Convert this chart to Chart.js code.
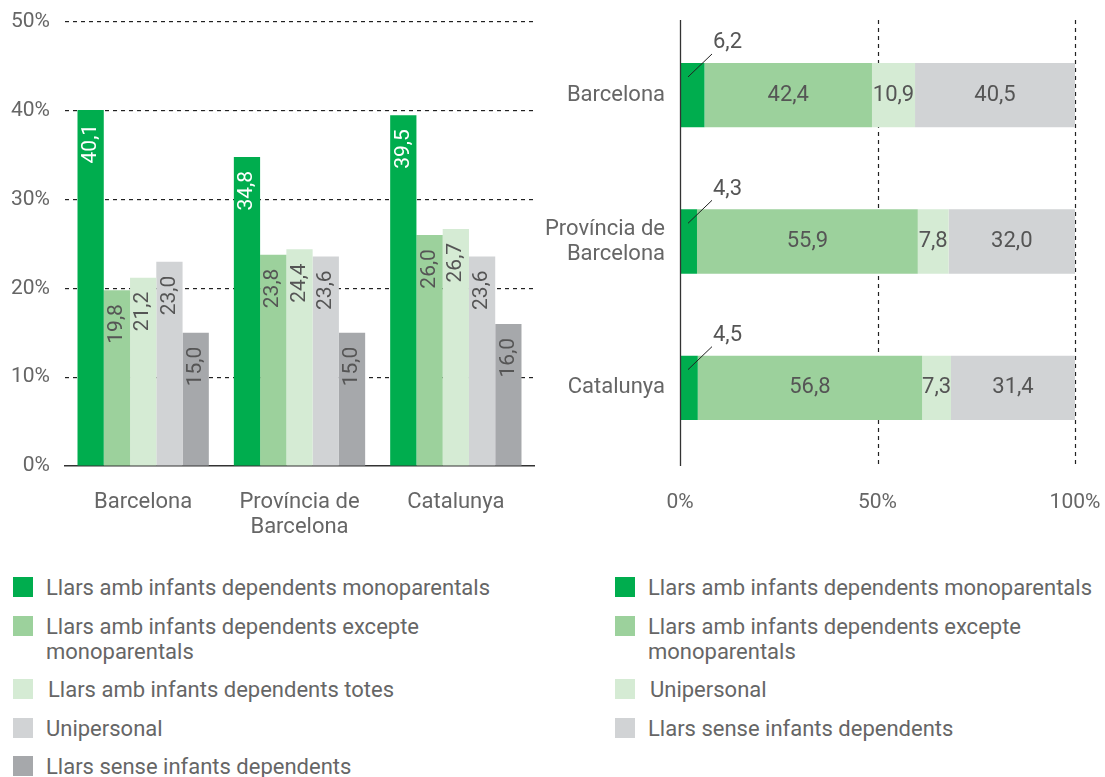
<!DOCTYPE html>
<html>
<head>
<meta charset="utf-8">
<script src="https://cdn.jsdelivr.net/npm/chart.js@4.4.1/dist/chart.umd.min.js"></script>
<style>
  html, body { margin: 0; padding: 0; background: #fff; }
  body { width: 1105px; height: 777px; position: relative; overflow: hidden; font-family: Roboto, sans-serif; }
  #leftWrap { position: absolute; left: 0; top: 0; width: 545px; height: 545px; }
  #rightWrap { position: absolute; left: 545px; top: 0; width: 560px; height: 545px; }
  .legend { position: absolute; top: 575px; }
  .legend .item { position: relative; padding-left: 33px; margin-bottom: 13.5px; font-size: 22px; line-height: 25px; color: #666; white-space: nowrap; }
  .legend .sw { position: absolute; left: 0; top: 2px; width: 20px; height: 20px; }
</style>
</head>
<body>
<div id="leftWrap"><canvas id="left" width="545" height="545"></canvas></div>
<div id="rightWrap"><canvas id="right" width="560" height="545"></canvas></div>
<div class="legend" id="legendLeft" style="left:13px;"></div>
<div class="legend" id="legendRight" style="left:615px;"></div>
<script>
// ---------- DATA ----------
const categories = ['Barcelona', ['Província de', 'Barcelona'], 'Catalunya'];

const leftSeriesNames = [
  ['Llars amb infants dependents monoparentals'],
  ['Llars amb infants dependents excepte', 'monoparentals'],
  ['Llars amb infants dependents totes'],
  ['Unipersonal'],
  ['Llars sense infants dependents']
];
const leftMonoparentals = [40.1, 34.8, 39.5];
const leftExcepte = [19.8, 23.8, 26.0];
const leftTotes = [21.2, 24.4, 26.7];
const leftUnipersonal = [23.0, 23.6, 23.6];
const leftSense = [15.0, 15.0, 16.0];

const rightSeriesNames = [
  ['Llars amb infants dependents monoparentals'],
  ['Llars amb infants dependents excepte', 'monoparentals'],
  ['Unipersonal'],
  ['Llars sense infants dependents']
];
const rightMonoparentals = [6.2, 4.3, 4.5];
const rightExcepte = [42.4, 55.9, 56.8];
const rightUnipersonal = [10.9, 7.8, 7.3];
const rightSense = [40.5, 32.0, 31.4];

const leftTicks = [0, 10, 20, 30, 40, 50];
const rightTicks = [0, 50, 100];

// ---------- STYLE ----------
const C_DARKGREEN = '#00ad4e';
const C_MIDGREEN = '#9cd19c';
const C_LIGHTGREEN = '#d5ebd4';
const C_LIGHTGRAY = '#d1d3d5';
const C_DARKGRAY = '#a6a8ab';
const leftColors = [C_DARKGREEN, C_MIDGREEN, C_LIGHTGREEN, C_LIGHTGRAY, C_DARKGRAY];
const rightColors = [C_DARKGREEN, C_MIDGREEN, C_LIGHTGREEN, C_LIGHTGRAY];
const TEXT = '#666666';
const LABEL = '#555555';
const FONT = 'Roboto, sans-serif';

Chart.defaults.font.family = FONT;
Chart.defaults.font.size = 21;
Chart.defaults.color = TEXT;

const fmt = v => v.toFixed(1).replace('.', ',');

// ---------- LEFT CHART ----------
const leftData = [leftMonoparentals, leftExcepte, leftTotes, leftUnipersonal, leftSense];

const leftLabelsPlugin = {
  id: 'leftLabels',
  afterDatasetsDraw(chart) {
    const ctx = chart.ctx;
    ctx.save();
    ctx.font = '21px ' + FONT;
    chart.data.datasets.forEach((ds, i) => {
      const meta = chart.getDatasetMeta(i);
      meta.data.forEach((bar, j) => {
        ctx.save();
        ctx.translate(bar.x, bar.y + 14);
        ctx.rotate(-Math.PI / 2);
        ctx.textAlign = 'right';
        ctx.textBaseline = 'middle';
        ctx.fillStyle = i === 0 ? '#ffffff' : LABEL;
        ctx.fillText(fmt(ds.data[j]), 0, 0);
        ctx.restore();
      });
    });
    ctx.restore();
  }
};

new Chart(document.getElementById('left'), {
  type: 'bar',
  data: {
    labels: categories,
    datasets: leftData.map((d, i) => ({
      label: leftSeriesNames[i].join(' '),
      data: d,
      backgroundColor: leftColors[i],
      borderWidth: 0,
      categoryPercentage: 0.84,
      barPercentage: 1.0
    }))
  },
  options: {
    responsive: false,
    animation: false,
    layout: { padding: { top: 22, right: 11, left: 0, bottom: 0 } },
    plugins: { legend: { display: false }, tooltip: { enabled: false } },
    scales: {
      x: {
        grid: { display: false, drawTicks: false },
        border: { display: true, color: '#333333', width: 1.5 },
        ticks: { padding: 24, color: TEXT, font: { size: 22, lineHeight: '25px' } },
        afterFit(scale) { scale.height = 79; scale.paddingLeft = 0; scale.paddingRight = 0; }
      },
      y: {
        min: 0, max: 50,
        afterBuildTicks(scale) { scale.ticks = leftTicks.map(v => ({ value: v })); },
        grid: {
          color: ctx => ctx.tick && ctx.tick.value === 0 ? 'rgba(0,0,0,0)' : '#222222',
          lineWidth: 1.2,
          drawTicks: false
        },
        border: { display: false, dash: [4, 4] },
        ticks: { padding: 15, color: TEXT, font: { size: 21 }, callback: v => v + '%' },
        afterFit(scale) { scale.width = 65; scale.paddingTop = 0; scale.paddingBottom = 0; }
      }
    }
  },
  plugins: [leftLabelsPlugin]
});

// ---------- RIGHT CHART ----------
const rightData = [rightMonoparentals, rightExcepte, rightUnipersonal, rightSense];

const rightAxisPlugin = {
  id: 'rightAxis',
  beforeDatasetsDraw(chart) {
    const ctx = chart.ctx;
    const area = chart.chartArea;
    const xs = chart.scales.x;
    ctx.save();
    ctx.strokeStyle = '#222222';
    ctx.lineWidth = 1.2;
    ctx.setLineDash([4, 4]);
    rightTicks.filter(v => v !== 0).forEach(v => {
      const px = Math.round(xs.getPixelForValue(v)) + 0.5;
      ctx.beginPath();
      ctx.moveTo(px, area.top - 2);
      ctx.lineTo(px, area.bottom + 5);
      ctx.stroke();
    });
    ctx.restore();
  },
  afterDatasetsDraw(chart) {
    const ctx = chart.ctx;
    const area = chart.chartArea;
    const xs = chart.scales.x;
    ctx.save();
    ctx.strokeStyle = '#333333';
    ctx.lineWidth = 1.3;
    const px = Math.round(xs.getPixelForValue(0)) + 0.5;
    ctx.beginPath();
    ctx.moveTo(px, area.top - 2);
    ctx.lineTo(px, area.bottom + 5);
    ctx.stroke();
    ctx.restore();
  }
};

const rightLabelsPlugin = {
  id: 'rightLabels',
  afterDatasetsDraw(chart) {
    const ctx = chart.ctx;
    ctx.save();
    ctx.font = '22px ' + FONT;
    ctx.fillStyle = LABEL;
    chart.data.datasets.forEach((ds, i) => {
      const meta = chart.getDatasetMeta(i);
      meta.data.forEach((bar, j) => {
        const v = ds.data[j];
        if (i === 0) {
          const top = bar.y - bar.height / 2;
          const x0 = bar.base;
          ctx.strokeStyle = '#222222';
          ctx.lineWidth = 1;
          ctx.beginPath();
          ctx.moveTo(x0 + 8, top + 14);
          ctx.lineTo(x0 + 32, top - 9);
          ctx.stroke();
          ctx.textAlign = 'left';
          ctx.textBaseline = 'middle';
          ctx.fillText(fmt(v), x0 + 33, top - 20);
        } else {
          ctx.textAlign = 'center';
          ctx.textBaseline = 'middle';
          ctx.fillText(fmt(v), (bar.x + bar.base) / 2, bar.y);
        }
      });
    });
    ctx.restore();
  }
};

new Chart(document.getElementById('right'), {
  type: 'bar',
  data: {
    labels: categories,
    datasets: rightData.map((d, i) => ({
      label: rightSeriesNames[i].join(' '),
      data: d,
      backgroundColor: rightColors[i],
      borderWidth: 0,
      categoryPercentage: 1.0,
      barPercentage: 0.44
    }))
  },
  options: {
    indexAxis: 'y',
    responsive: false,
    animation: false,
    layout: { padding: { top: 22, right: 30, left: 0, bottom: 0 } },
    plugins: { legend: { display: false }, tooltip: { enabled: false } },
    scales: {
      x: {
        stacked: true,
        min: 0, max: 100,
        afterBuildTicks(scale) { scale.ticks = rightTicks.map(v => ({ value: v })); },
        grid: { display: false, drawTicks: false },
        border: { display: false },
        ticks: { padding: 29, color: TEXT, font: { size: 21 }, callback: v => v + '%' },
        afterFit(scale) { scale.height = 84; scale.paddingLeft = 0; scale.paddingRight = 0; }
      },
      y: {
        stacked: true,
        grid: { display: false, drawTicks: false },
        border: { display: false },
        ticks: { padding: 15, color: TEXT, font: { size: 22, lineHeight: '25px' } },
        afterFit(scale) { scale.width = 135; scale.paddingTop = 0; scale.paddingBottom = 0; }
      }
    }
  },
  plugins: [rightAxisPlugin, rightLabelsPlugin]
});

// ---------- LEGENDS ----------
function buildLegend(el, names, colors, indentIndex) {
  names.forEach((lines, i) => {
    const item = document.createElement('div');
    item.className = 'item';
    if (i === indentIndex) item.style.paddingLeft = '35px';
    const sw = document.createElement('span');
    sw.className = 'sw';
    sw.style.background = colors[i];
    item.appendChild(sw);
    lines.forEach((t, k) => {
      if (k > 0) item.appendChild(document.createElement('br'));
      item.appendChild(document.createTextNode(t));
    });
    el.appendChild(item);
  });
}
buildLegend(document.getElementById('legendLeft'), leftSeriesNames, leftColors, 2);
buildLegend(document.getElementById('legendRight'), rightSeriesNames, rightColors, 2);
</script>
</body>
</html>
